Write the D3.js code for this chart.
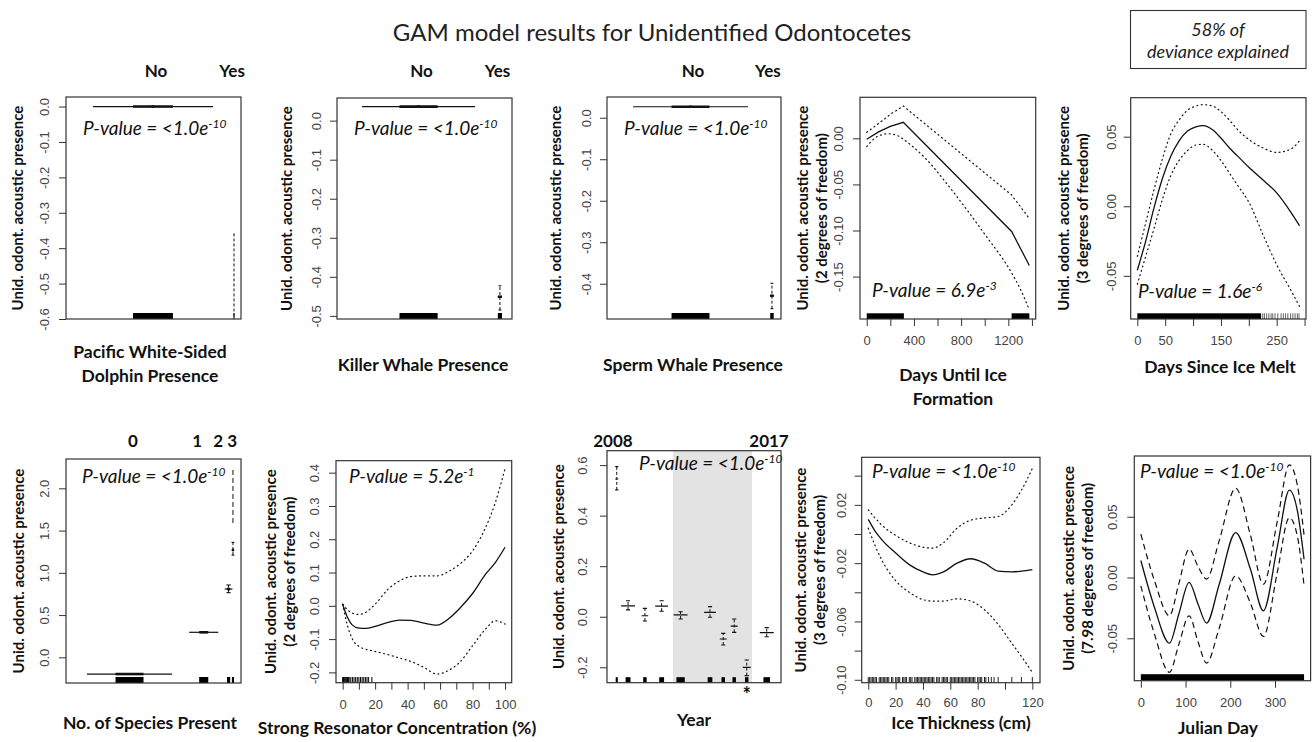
<!DOCTYPE html>
<html>
<head>
<meta charset="utf-8">
<script src="https://cdn.jsdelivr.net/npm/d3@7"></script>
<style>
  body { margin: 0; background: #fff; }
  svg { display: block; }
</style>
</head>
<body>
<script>
// ---------------- data ----------------
// Factor terms: level position on the panel's 0-100 axis, fitted effect, +/- 2 SE,
// half-width of the effect line and half-width of the rug block.
const pwsdLevels = ["No", "Yes"];
const pwsdHeadAt = [51.4, 94.9];
const pwsdAt   = [49.7, 96.0];
const pwsdEst  = [0.0, -0.75];
const pwsdLo   = [-0.002, -1.2];
const pwsdHi   = [0.002, -0.36];
const pwsdHalf = [34.3, 0.3];
const pwsdRug  = [11.4, 0.3];

const killerLevels = ["No", "Yes"];
const killerHeadAt = [48.3, 91.7];
const killerAt   = [46.6, 93.1];
const killerEst  = [0.036, -0.451];
const killerLo   = [0.034, -0.485];
const killerHi   = [0.038, -0.423];
const killerHalf = [32.3, 1.2];
const killerRug  = [10.9, 1.2];

const spermLevels = ["No", "Yes"];
const spermHeadAt = [49.4, 92.5];
const spermAt   = [48.0, 94.8];
const spermEst  = [0.0265, -0.429];
const spermLo   = [0.025, -0.46];
const spermHi   = [0.028, -0.399];
const spermHalf = [33.0, 1.2];
const spermRug  = [10.9, 1.0];

const speciesLevels = ["0", "1", "2", "3"];
const speciesHeadAt = [38.3, 74.9, 86.9, 94.9];
const speciesAt   = [36.3, 78.7, 92.9, 95.4];
const speciesEst  = [-0.198, 0.296, 0.808, 1.27];
const speciesLo   = [-0.2, 0.293, 0.765, 1.21];
const speciesHi   = [-0.196, 0.299, 0.856, 1.36];
const speciesHalf = [24.3, 8.3, 2.2, 0.8];
const speciesRug  = [8.0, 2.6, 0.9, 0.6];
const speciesTailLo = [null, null, null, 1.59];
const speciesTailHi = [null, null, null, 2.22];

const yearLevels = ["2008", "2009", "2010", "2011", "2012", "2013", "2014", "2015", "2016", "2017"];
const yearHeadLabels = ["2008", "2017"];
const yearHeadAt = [3.4, 93.1];
const yearAt   = [5.6, 12.1, 21.8, 31.4, 42.3, 59.2, 66.8, 73.1, 80.3, 91.8];
const yearEst  = [0.545, 0.043, 0.004, 0.042, 0.007, 0.017, -0.088, -0.037, -0.2, -0.063];
const yearLo   = [0.502, 0.027, -0.017, 0.022, -0.009, -0.002, -0.112, -0.062, -0.233, -0.079];
const yearHi   = [0.594, 0.063, 0.033, 0.063, 0.02, 0.04, -0.066, -0.009, -0.171, -0.043];
const yearHalf = [0.9, 4.0, 1.9, 3.7, 4.0, 3.4, 2.0, 2.0, 2.3, 4.0];
const yearRug  = [0.6, 1.4, 1.0, 1.4, 2.4, 1.35, 1.0, 1.0, 1.0, 1.9];
const yearSignificant = [false, false, false, false, false, false, false, false, true, false];
const yearShade = [37.9, 83.3];

// Smooth terms: covariate values, fitted smooth, upper and lower 2-SE bands.
const iceFormX     = [0, 100, 200, 310, 1228, 1378];
const iceFormFit   = [-0.001, 0.007, 0.013, 0.0174, -0.101, -0.138];
const iceFormUpper = [0.0065, 0.016, 0.026, 0.035, -0.0615, -0.087];
const iceFormLowX  = [0, 90, 183, 260, 310, 400, 500, 720, 1000, 1228, 1300, 1378];
const iceFormLower = [-0.009, 0.002, 0.005, 0.003, -0.001, -0.01, -0.022, -0.056, -0.104, -0.146, -0.163, -0.186];
const iceFormRugSpans = [[0, 315], [1228, 1378]];

const meltX     = [0, 15, 30, 45, 60, 75, 90, 105, 118, 135, 150, 165, 180, 200, 225, 250, 275, 291];
const meltFit   = [-0.046, -0.025, -0.001, 0.02, 0.036, 0.047, 0.054, 0.057, 0.058, 0.055, 0.049, 0.042, 0.036, 0.028, 0.019, 0.0096, -0.004, -0.014];
const meltUpper = [-0.036, -0.012, 0.012, 0.034, 0.052, 0.062, 0.069, 0.072, 0.073, 0.072, 0.068, 0.062, 0.055, 0.048, 0.042, 0.0387, 0.041, 0.047];
const meltLower = [-0.056, -0.036, -0.016, 0.005, 0.022, 0.033, 0.04, 0.044, 0.0445, 0.04, 0.033, 0.024, 0.015, 0.003, -0.02, -0.042, -0.06, -0.072];
const meltRugSpans = [[0, 222]];
const meltRugTicks = [225, 228, 232, 236, 240, 243, 247, 252, 258, 262, 266, 270, 275, 279, 283, 287, 290];

const resonX     = [0, 3, 6, 10, 14, 20, 28, 35, 42, 50, 58, 66, 72, 80, 88, 94, 100];
const resonFit   = [0.005, -0.035, -0.058, -0.067, -0.068, -0.062, -0.05, -0.043, -0.044, -0.052, -0.058, -0.036, -0.008, 0.037, 0.095, 0.13, 0.176];
const resonUpper = [0.005, -0.012, -0.022, -0.026, -0.02, 0.005, 0.05, 0.075, 0.088, 0.09, 0.09, 0.105, 0.125, 0.165, 0.235, 0.31, 0.413];
const resonLower = [0.005, -0.06, -0.1, -0.122, -0.13, -0.137, -0.147, -0.157, -0.167, -0.185, -0.205, -0.192, -0.17, -0.12, -0.07, -0.045, -0.055];
const resonRugTicks = [0, 0.5, 1, 1.5, 2, 2.5, 3, 3.5, 4, 5, 6, 7, 8, 9, 10, 11, 12, 13, 14, 15, 16, 18];

const thickX     = [0, 5, 10, 20, 30, 40, 47, 55, 65, 75, 85, 95, 105, 112, 120];
const thickFit   = [0.01, 0.002, -0.004, -0.013, -0.021, -0.026, -0.028, -0.026, -0.02, -0.017, -0.02, -0.0255, -0.026, -0.0255, -0.0245];
const thickUpper = [0.0165, 0.011, 0.006, -0.001, -0.006, -0.009, -0.0097, -0.006, 0.004, 0.0095, 0.011, 0.012, 0.02, 0.03, 0.045];
const thickLower = [0.004, -0.008, -0.018, -0.032, -0.04, -0.045, -0.046, -0.046, -0.0445, -0.046, -0.052, -0.062, -0.075, -0.084, -0.095];
const thickRugTicks = [0, 1, 2, 3, 4, 5, 6, 8, 9, 10, 11, 12, 13, 14, 15, 17, 18, 20, 21, 22, 23, 25, 26, 27, 28, 30, 31, 32, 34,
  35, 36, 37, 38, 39, 40, 41, 42, 43, 44, 45, 46, 47, 48, 50, 51, 52, 54, 55, 56, 57, 58, 60, 61, 62, 63, 64, 65, 66, 67,
  68, 69, 70, 71, 72, 73, 74, 75, 76, 77, 78, 80, 81, 82, 83, 85, 86, 88, 90, 92, 95, 105, 112, 120];

const julianX     = [0, 30, 64, 85, 108, 128, 147, 175, 212, 245, 274, 305, 332, 350, 365];
const julianFit   = [0.014, -0.024, -0.054, -0.03, -0.004, -0.022, -0.0375, -0.006, 0.037, 0.007, -0.0274, 0.025, 0.072, 0.055, 0.015];
const julianUpper = [0.0357, -0.002, -0.0315, -0.005, 0.0234, 0.009, -0.0013, 0.03, 0.0735, 0.035, -0.0055, 0.046, 0.0927, 0.076, 0.035];
const julianLower = [-0.0068, -0.046, -0.078, -0.055, -0.0315, -0.053, -0.0704, -0.042, 0.0014, -0.021, -0.0485, 0.004, 0.0493, 0.034, -0.0068];
const julianRugSpans = [[0, 365]];

const devianceText = ["58% of", "deviance explained"];
const chartTitle = "GAM model results for Unidentified Odontocetes";

// ---------------- drawing ----------------
const W = 1313, H = 742;
const LABEL_FONT = "Lato, 'Open Sans', sans-serif";
const TICK_FONT = "'Liberation Sans', Arial, Helvetica, sans-serif";
const INK = "#111";
const svg = d3.select("body").append("svg").attr("width", W).attr("height", H);
let clipCount = 0;

svg.append("text")
  .attr("x", 652).attr("y", 41)
  .attr("text-anchor", "middle")
  .attr("font-family", LABEL_FONT).attr("font-size", 24)
  .attr("fill", "#222")
  .text(chartTitle);

// deviance annotation box
svg.append("rect").attr("x", 1130.5).attr("y", 10.5).attr("width", 175.5).attr("height", 58)
  .attr("fill", "none").attr("stroke", "#333").attr("stroke-width", 1.1);
devianceText.forEach((t, i) => {
  svg.append("text").attr("x", 1218).attr("y", 35.5 + i * 22.5)
    .attr("text-anchor", "middle").attr("font-family", LABEL_FONT)
    .attr("font-style", "italic").attr("font-size", 18).attr("fill", "#222").text(t);
});

const fmtFixed = n => d => {
  const s = d.toFixed(n);
  return /^-0\.0+$/.test(s) ? s.slice(1) : s;
};
const near = (arr, v) => arr.some(a => Math.abs(a - v) < 1e-9);

function panel(cfg) {
  const [x0, y0, x1, y1] = cfg.box;
  const x = d3.scaleLinear().domain(cfg.xDomain).range([x0, x1]);
  const y = d3.scaleLinear().domain(cfg.yDomain).range([y1, y0]);
  const g = svg.append("g");
  const id = "clip" + (clipCount++);
  svg.append("clipPath").attr("id", id).append("rect")
    .attr("x", x0).attr("y", y0).attr("width", x1 - x0).attr("height", y1 - y0);
  const plot = g.append("g").attr("clip-path", `url(#${id})`);

  // y axis: ticks outside the box, labels rotated parallel to the axis
  const fy = fmtFixed(cfg.yDigits);
  const ya = g.append("g").attr("transform", `translate(${x0},0)`)
    .call(d3.axisLeft(y).tickValues(cfg.yTicks).tickSize(7)
      .tickFormat(d => near(cfg.yLabels || cfg.yTicks, d) ? fy(d) : ""));
  ya.select(".domain").remove();
  ya.selectAll(".tick line").attr("stroke", "#333");
  ya.selectAll(".tick text")
    .attr("x", null).attr("dy", null)
    .attr("text-anchor", "middle").attr("dominant-baseline", "central")
    .attr("transform", `translate(${-cfg.yLabelGap},0) rotate(-90)`)
    .attr("font-family", TICK_FONT).attr("font-size", 13).attr("fill", "#444");

  if (cfg.xTicks) {
    const xa = g.append("g").attr("transform", `translate(0,${y1})`)
      .call(d3.axisBottom(x).tickValues(cfg.xTicks).tickSize(7)
        .tickFormat(d => near(cfg.xLabels || cfg.xTicks, d) ? String(d) : ""));
    xa.select(".domain").remove();
    xa.selectAll(".tick line").attr("stroke", "#333");
    xa.selectAll(".tick text").attr("y", cfg.xLabelY || 17).attr("dy", "0.71em")
      .attr("font-family", TICK_FONT).attr("font-size", 13).attr("fill", "#444");
  }

  // axis titles
  const yt = g.append("text")
    .attr("transform", `translate(${cfg.yTitleX},${(y0 + y1) / 2}) rotate(-90)`)
    .attr("text-anchor", "middle")
    .attr("font-family", LABEL_FONT).attr("font-weight", "bold").attr("font-size", 15).attr("fill", "#111");
  cfg.yTitle.forEach((t, i) => {
    yt.append("tspan").attr("x", 0).attr("y", i * 18.5).attr("dominant-baseline", "central").text(t);
  });
  cfg.xTitle.forEach((t, i) => {
    g.append("text").attr("x", cfg.xTitleX).attr("y", cfg.xTitleY + i * 24)
      .attr("text-anchor", "middle")
      .attr("font-family", LABEL_FONT).attr("font-weight", "bold").attr("font-size", 17.5).attr("fill", "#111")
      .text(t);
  });

  if (cfg.pText) {
    const t = g.append("text").attr("class", "pval").attr("x", cfg.pPos[0]).attr("y", cfg.pPos[1])
      .attr("font-family", LABEL_FONT).attr("font-style", "italic").attr("font-size", 19).attr("fill", "#111")
      .text(cfg.pText);
    t.append("tspan").attr("dy", -7).attr("font-size", 12).text(cfg.pSup);
  }

  return { g, plot, x, y, x0, y0, x1, y1 };
}

function frame(p) {
  p.g.append("rect").attr("x", p.x0).attr("y", p.y0)
    .attr("width", p.x1 - p.x0).attr("height", p.y1 - p.y0)
    .attr("fill", "none").attr("stroke", "#333").attr("stroke-width", 1.2);
}

function headers(p, labels, at, yBase) {
  labels.forEach((t, i) => {
    p.g.append("text").attr("x", p.x(at[i])).attr("y", yBase)
      .attr("text-anchor", "middle").attr("font-family", LABEL_FONT)
      .attr("font-weight", "bold").attr("font-size", 17).attr("fill", "#111").text(t);
  });
}

function factorLevels(p, L, opt) {
  const rugH = opt.rugH;
  L.at.forEach((a, i) => {
    const xc = p.x(a);
    // rug block of observations for this level
    p.plot.append("rect")
      .attr("x", p.x(a - L.rug[i])).attr("y", p.y1 - rugH)
      .attr("width", Math.max(1, p.x(a + L.rug[i]) - p.x(a - L.rug[i]))).attr("height", rugH)
      .attr("fill", "#000");
    // 2-SE interval
    p.plot.append("line").attr("x1", xc).attr("x2", xc)
      .attr("y1", p.y(L.lo[i])).attr("y2", p.y(L.hi[i]))
      .attr("stroke", INK).attr("stroke-width", 1).attr("stroke-dasharray", "3,2");
    const cap = Math.min(L.half[i], opt.cap);
    [L.lo[i], L.hi[i]].forEach(v => {
      p.plot.append("line").attr("x1", p.x(a - cap)).attr("x2", p.x(a + cap))
        .attr("y1", p.y(v)).attr("y2", p.y(v))
        .attr("stroke", INK).attr("stroke-width", 1.1);
    });
    if (L.tailLo && L.tailLo[i] != null) {
      p.plot.append("line").attr("x1", xc).attr("x2", xc)
        .attr("y1", p.y(L.tailLo[i])).attr("y2", p.y(L.tailHi[i]))
        .attr("stroke", INK).attr("stroke-width", 1).attr("stroke-dasharray", "5,3");
    }
    // fitted level effect
    p.plot.append("line").attr("x1", p.x(a - L.half[i])).attr("x2", p.x(a + L.half[i]))
      .attr("y1", p.y(L.est[i])).attr("y2", p.y(L.est[i]))
      .attr("stroke", INK).attr("stroke-width", 1.2);
    if (opt.thick) {
      p.plot.append("line").attr("x1", p.x(a - L.rug[i])).attr("x2", p.x(a + L.rug[i]))
        .attr("y1", p.y(L.est[i])).attr("y2", p.y(L.est[i]))
        .attr("stroke", INK).attr("stroke-width", 2.6);
    }
  });
}

function series(p, xs, ys, dash, curve) {
  p.plot.append("path")
    .datum(xs.map((d, i) => [d, ys[i]]))
    .attr("d", d3.line().x(d => p.x(d[0])).y(d => p.y(d[1])).curve(curve || d3.curveMonotoneX))
    .attr("fill", "none").attr("stroke", INK)
    .attr("stroke-width", dash ? 1.2 : 1.3)
    .attr("stroke-dasharray", dash || null)
    .attr("stroke-linecap", dash === "1,3.5" ? "round" : "butt");
}

function rugSpans(p, spans, h) {
  spans.forEach(([a, b]) => {
    p.plot.append("rect").attr("x", p.x(a)).attr("y", p.y1 - h)
      .attr("width", p.x(b) - p.x(a)).attr("height", h).attr("fill", "#000");
  });
}
function rugTicks(p, vals, h, color) {
  vals.forEach(v => {
    p.plot.append("line").attr("x1", p.x(v)).attr("x2", p.x(v))
      .attr("y1", p.y1).attr("y2", p.y1 - h)
      .attr("stroke", color).attr("stroke-width", 1);
  });
}

const DOT = "1,3.5";
const DASH = "6,4";
const yTitle1 = ["Unid. odont. acoustic presence"];
const range = (a, b, s) => d3.range(a, b + s / 2, s).map(v => +v.toFixed(4));

// ---- Pacific white-sided dolphin ----
{
  const p = panel({
    box: [66, 97, 241, 319], xDomain: [0, 100], yDomain: [-0.6, 0.027],
    yTicks: range(-0.6, 0, 0.1), yDigits: 1, yLabelGap: 22,
    yTitle: yTitle1, yTitleX: 17,
    xTitle: ["Pacific White-Sided", "Dolphin Presence"], xTitleX: 150, xTitleY: 358,
    pText: "P-value = <1.0e", pSup: "-10", pPos: [83, 135]
  });
  factorLevels(p, { at: pwsdAt, est: pwsdEst, lo: pwsdLo, hi: pwsdHi, half: pwsdHalf, rug: pwsdRug },
    { rugH: 6, cap: 0.8, thick: true });
  headers(p, pwsdLevels, pwsdHeadAt, 77);
  frame(p);
}
// ---- Killer whale ----
{
  const p = panel({
    box: [337, 98, 512, 319], xDomain: [0, 100], yDomain: [-0.508, 0.058],
    yTicks: range(-0.5, 0, 0.1), yDigits: 1, yLabelGap: 21,
    yTitle: yTitle1, yTitleX: 286,
    xTitle: ["Killer Whale Presence"], xTitleX: 423, xTitleY: 371,
    pText: "P-value = <1.0e", pSup: "-10", pPos: [354, 135]
  });
  factorLevels(p, { at: killerAt, est: killerEst, lo: killerLo, hi: killerHi, half: killerHalf, rug: killerRug },
    { rugH: 6, cap: 0.8, thick: true });
  headers(p, killerLevels, killerHeadAt, 77);
  frame(p);
}
// ---- Sperm whale ----
{
  const p = panel({
    box: [607, 97, 781, 319], xDomain: [0, 100], yDomain: [-0.485, 0.05],
    yTicks: range(-0.4, 0, 0.1), yDigits: 1, yLabelGap: 21,
    yTitle: yTitle1, yTitleX: 555,
    xTitle: ["Sperm Whale Presence"], xTitleX: 693, xTitleY: 371,
    pText: "P-value = <1.0e", pSup: "-10", pPos: [624, 135]
  });
  factorLevels(p, { at: spermAt, est: spermEst, lo: spermLo, hi: spermHi, half: spermHalf, rug: spermRug },
    { rugH: 6, cap: 0.8, thick: true });
  headers(p, spermLevels, spermHeadAt, 77);
  frame(p);
}
// ---- Days until ice formation ----
{
  const p = panel({
    box: [860, 97.3, 1035.7, 319], xDomain: [-57, 1432], yDomain: [-0.196, 0.0445],
    yTicks: range(-0.15, 0, 0.05), yDigits: 2, yLabelGap: 22,
    xTicks: range(0, 1400, 200), xLabels: [0, 400, 800, 1200],
    yTitle: ["Unid. odont. acoustic presence", "(2 degrees of freedom)"], yTitleX: 802,
    xTitle: ["Days Until Ice", "Formation"], xTitleX: 953, xTitleY: 381,
    pText: "P-value = 6.9e", pSup: "-3", pPos: [872, 297]
  });
  rugSpans(p, iceFormRugSpans, 5.7);
  series(p, iceFormX, iceFormUpper, DOT, d3.curveLinear);
  series(p, iceFormLowX, iceFormLower, DOT);
  series(p, iceFormX, iceFormFit, null, d3.curveLinear);
  frame(p);
}
// ---- Days since ice melt ----
{
  const p = panel({
    box: [1130.7, 97.7, 1306, 319], xDomain: [-11.9, 302.6], yDomain: [-0.081, 0.078],
    yTicks: [-0.05, 0, 0.05], yDigits: 2, yLabelGap: 19,
    xTicks: range(0, 300, 50), xLabels: [0, 50, 150, 250],
    yTitle: ["Unid. odont. acoustic presence", "(3 degrees of freedom)"], yTitleX: 1063,
    xTitle: ["Days Since Ice Melt"], xTitleX: 1220, xTitleY: 373,
    pText: "P-value = 1.6e", pSup: "-6", pPos: [1138, 298]
  });
  rugSpans(p, meltRugSpans, 5.7);
  rugTicks(p, meltRugTicks, 5.7, "#666");
  series(p, meltX, meltUpper, DOT);
  series(p, meltX, meltLower, DOT);
  series(p, meltX, meltFit, null);
  frame(p);
}
// ---- Number of species present ----
{
  const p = panel({
    box: [66, 459, 241, 683], xDomain: [0, 100], yDomain: [-0.304, 2.347],
    yTicks: range(0, 2, 0.5), yDigits: 1, yLabelGap: 22,
    yTitle: yTitle1, yTitleX: 18,
    xTitle: ["No. of Species Present"], xTitleX: 150, xTitleY: 729,
    pText: "P-value = <1.0e", pSup: "-10", pPos: [82, 483]
  });
  factorLevels(p, { at: speciesAt, est: speciesEst, lo: speciesLo, hi: speciesHi, half: speciesHalf, rug: speciesRug,
    tailLo: speciesTailLo, tailHi: speciesTailHi }, { rugH: 6, cap: 1.2, thick: true });
  headers(p, speciesLevels, speciesHeadAt, 447);
  frame(p);
}
// ---- Strong resonator concentration ----
{
  const p = panel({
    box: [336, 460.7, 511.7, 682.7], xDomain: [-4.1, 104.1], yDomain: [-0.231, 0.436],
    yTicks: range(-0.2, 0.4, 0.1), yDigits: 1, yLabelGap: 22,
    xTicks: range(0, 100, 10), xLabels: range(0, 100, 20),
    yTitle: ["Unid. odont. acoustic presence", "(2 degrees of freedom)"], yTitleX: 270,
    xTitle: ["Strong Resonator Concentration (%)"], xTitleX: 397, xTitleY: 734,
    pText: "P-value = 5.2e", pSup: "-1", pPos: [349, 483]
  });
  rugTicks(p, resonRugTicks, 5.7, "#000");
  series(p, resonX, resonUpper, DOT);
  series(p, resonX, resonLower, DOT);
  series(p, resonX, resonFit, null);
  frame(p);
}
// ---- Year ----
{
  const p = panel({
    box: [607, 450.7, 781, 682.7], xDomain: [0, 100], yDomain: [-0.261, 0.657],
    yTicks: range(-0.2, 0.6, 0.2), yDigits: 1, yLabelGap: 25,
    yTitle: yTitle1, yTitleX: 558,
    xTitle: ["Year"], xTitleX: 694, xTitleY: 726,
    pText: "P-value = <1.0e", pSup: "-10", pPos: [639, 470]
  });
  p.plot.append("rect")
    .attr("x", p.x(yearShade[0])).attr("y", p.y0)
    .attr("width", p.x(yearShade[1]) - p.x(yearShade[0])).attr("height", p.y1 - p.y0)
    .attr("fill", "#e3e3e3");
  factorLevels(p, { at: yearAt, est: yearEst, lo: yearLo, hi: yearHi, half: yearHalf, rug: yearRug },
    { rugH: 5.5, cap: 1.2, thick: false });
  // keep the p-value above the shaded band
  p.g.select("text.pval").raise();
  headers(p, yearHeadLabels, yearHeadAt, 447);
  yearAt.forEach((a, i) => {
    if (yearSignificant[i]) {
      p.g.append("text").attr("x", p.x(a)).attr("y", 702)
        .attr("text-anchor", "middle").attr("font-family", LABEL_FONT)
        .attr("font-weight", "bold").attr("font-size", 20).attr("fill", "#111").text("*");
    }
  });
  frame(p);
}
// ---- Ice thickness ----
{
  const p = panel({
    box: [861.7, 457.3, 1040, 682.7], xDomain: [-4.8, 125.6], yDomain: [-0.102, 0.0526],
    yTicks: range(-0.1, 0.04, 0.02), yLabels: [-0.1, -0.06, -0.02, 0.02], yDigits: 2, yLabelGap: 20,
    xTicks: range(0, 120, 20), xLabels: [0, 20, 40, 60, 80, 120], xLabelY: 15,
    yTitle: ["Unid. odont. acoustic presence", "(3 degrees of freedom)"], yTitleX: 800,
    xTitle: ["Ice Thickness (cm)"], xTitleX: 961, xTitleY: 729,
    pText: "P-value = <1.0e", pSup: "-10", pPos: [872, 478]
  });
  rugTicks(p, thickRugTicks, 5.7, "#222");
  series(p, thickX, thickUpper, DOT);
  series(p, thickX, thickLower, DOT);
  series(p, thickX, thickFit, null);
  frame(p);
}
// ---- Julian day ----
{
  const p = panel({
    box: [1134.3, 456, 1310.6, 680.7], xDomain: [-14.6, 379.6], yDomain: [-0.0849, 0.1],
    yTicks: [-0.05, 0, 0.05], yDigits: 2, yLabelGap: 22,
    xTicks: range(0, 300, 100),
    yTitle: ["Unid. odont. acoustic presence", "(7.98 degrees of freedom)"], yTitleX: 1068,
    xTitle: ["Julian Day"], xTitleX: 1218, xTitleY: 734,
    pText: "P-value = <1.0e", pSup: "-10", pPos: [1140, 478]
  });
  rugSpans(p, julianRugSpans, 6.5);
  series(p, julianX, julianUpper, DASH);
  series(p, julianX, julianLower, DASH);
  series(p, julianX, julianFit, null);
  frame(p);
}
</script>
</body>
</html>
